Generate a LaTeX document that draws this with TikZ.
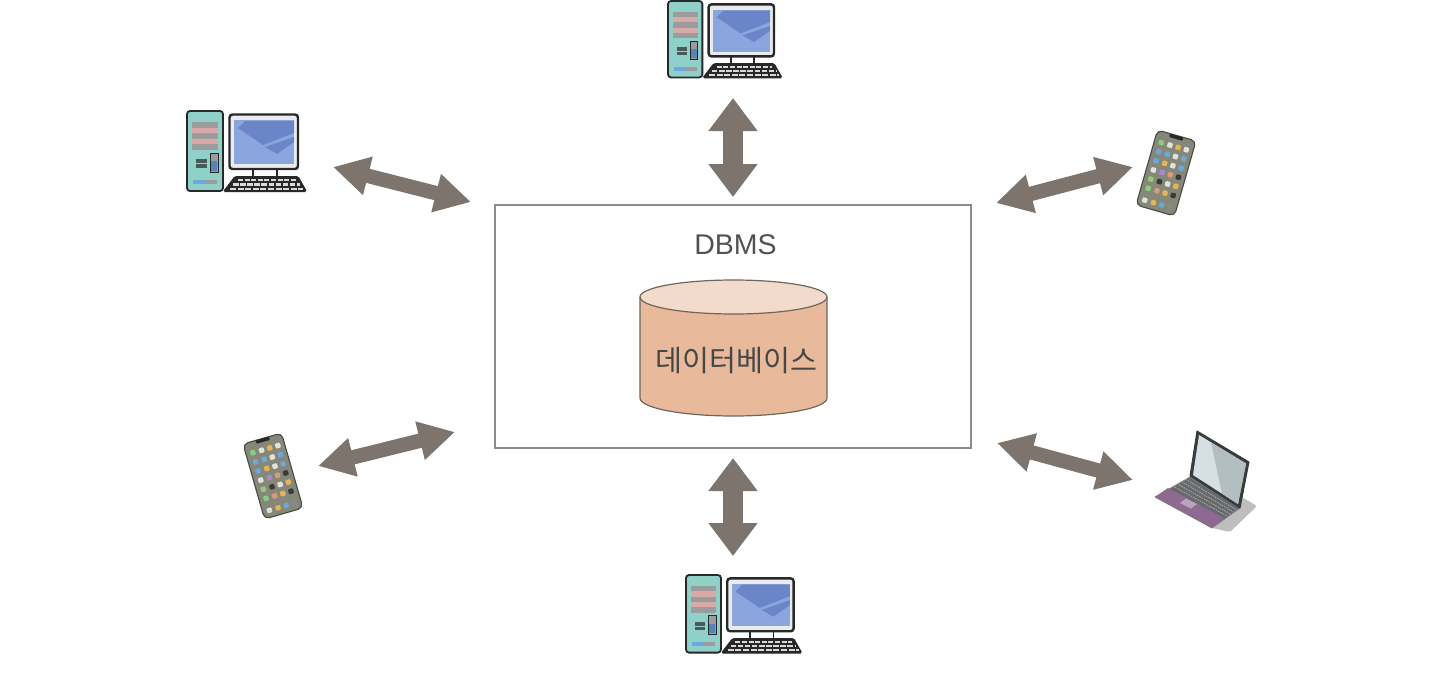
\documentclass[tikz,border=0pt]{standalone}
\usepackage{fontspec}
\setmainfont{Liberation Sans}
\newfontfamily\krfont{Noto Sans CJK KR}
\usetikzlibrary{arrows.meta,calc}
\definecolor{arrowgray}{HTML}{7D746E}
\definecolor{boxline}{HTML}{8C8C8C}
\definecolor{dbside}{HTML}{E8B99B}
\definecolor{dbtop}{HTML}{F3DBCB}
\definecolor{dbline}{HTML}{6E6660}
\definecolor{towerc}{HTML}{8FD0C8}
\definecolor{ink}{HTML}{26282A}
\definecolor{screenc}{HTML}{8BA6DE}
\definecolor{screend}{HTML}{6A86C8}
\definecolor{ventg}{HTML}{9C9C9C}
\definecolor{ventp}{HTML}{D8AAAA}
\definecolor{phonebody}{HTML}{858878}
\definecolor{appg}{HTML}{8CCB7E}
\definecolor{appb}{HTML}{6AA8E0}
\definecolor{appo}{HTML}{E6B455}
\definecolor{appw}{HTML}{E2E2DC}
\definecolor{appk}{HTML}{3A3A3A}
\definecolor{appv}{HTML}{A98AD0}
\definecolor{appr}{HTML}{D99A7E}
\definecolor{lapscr}{HTML}{D6DFE2}
\definecolor{lapscd}{HTML}{B3BEC0}
\definecolor{lapkey}{HTML}{666A6E}
\definecolor{lappur}{HTML}{8F6A90}
\definecolor{lapsh}{HTML}{BEBEBE}
\tikzset{
  slantarrow/.style={draw=arrowgray,line width=14.5pt,
    {Triangle[length=36pt,width=37pt,fill=arrowgray]}-{Triangle[length=36pt,width=37pt,fill=arrowgray]}},
  vertarrow/.style={draw=arrowgray,line width=20pt,
    {Triangle[length=33pt,width=47pt,fill=arrowgray]}-{Triangle[length=33pt,width=47pt,fill=arrowgray]}},
  pcicon/.pic={
    % tower
    \draw[fill=towerc,draw=ink,line width=1.8pt,rounded corners=3pt] (0,0) rectangle (36,80);
    \foreach \yy/\cc in {11/ventg,16.6/ventp,22.2/ventg,27.8/ventp,33.4/ventg}
      \fill[\cc] (5,\yy) rectangle (31,\yy+5.6);
    \fill[ink!70!towerc] (9,48) rectangle (20,57);
    \draw[towerc,line width=.7pt] (9,52.5) -- (20,52.5);
    \draw[fill=ventg,draw=ink,line width=.8pt] (23,42) rectangle (31,61);
    \fill[appb!80!black] (24,50) rectangle (30,60);
    \fill[appb] (6,69) rectangle (19,73);
    \fill[ventg] (19,69) rectangle (30,73);
    % monitor
    \draw[fill=white!92!black,draw=ink,line width=2.4pt,rounded corners=3pt] (42.5,3.5) rectangle (111,58);
    \fill[screenc] (47,9) rectangle (107,53);
    \fill[screend] (58,10) -- (51,17) -- (76,34) -- (107,22) -- (107,10) -- cycle;
    \fill[screend] (78,36) -- (107,26) -- (107,31) -- (90,43) -- cycle;
    % stand
    \draw[ink,line width=1.2pt] (66,58) -- (66,65) (90,58) -- (90,65);
    % keyboard
    \draw[fill=ink,draw=ink,line width=1pt,rounded corners=1.5pt] (48,65.5) -- (111,65.5) -- (119.5,80.5) -- (36.5,80.5) -- cycle;
    \draw[white!85!black,line width=2.4pt,dash pattern=on 5pt off 1.6pt] (51,69) -- (109,69);
    \draw[white!85!black,line width=2.4pt,dash pattern=on 5.5pt off 1.6pt] (46,73.4) -- (113,73.4);
    \draw[white!85!black,line width=2.2pt,dash pattern=on 6pt off 1.6pt] (43,77.6) -- (116,77.6);
  },
  phoneicon/.pic={
    \draw[fill=phonebody,draw=ink!65!phonebody,line width=1.1pt,rounded corners=5pt] (-20,-39) rectangle (20,39);
    \fill[ink,rounded corners=1pt] (-7,-39) rectangle (7,-35.5);
    \foreach \yy/\aa/\bb/\cc/\dd in {
      -28/appg/appw/appo/appw,
      -18.5/appb/appb/appw/appb,
      -9/appb/appo/appw/appb,
      0.5/appw/appv/appr/appk,
      10/appg/appk/appw/appo,
      19.5/appg/appr/appo/appk}{
      \fill[\aa,rounded corners=1pt] (-15.5,\yy-2.5) rectangle ++(5.2,5.2);
      \fill[\bb,rounded corners=1pt] (-6.5,\yy-2.5) rectangle ++(5.2,5.2);
      \fill[\cc,rounded corners=1pt] (2,\yy-2.5) rectangle ++(5.2,5.2);
      \fill[\dd,rounded corners=1pt] (10.5,\yy-2.5) rectangle ++(5.2,5.2);
    }
    \fill[appw,rounded corners=1pt] (-15.5,29.5) rectangle ++(5.2,5);
    \fill[appo,rounded corners=1pt] (-6.5,29.5) rectangle ++(5.2,5);
    \fill[appb,rounded corners=1pt] (2,29.5) rectangle ++(5.2,5);
    \fill[appk!60!white,rounded corners=1pt] (10.5,29.5) rectangle ++(5.2,5);
  },
  laptopicon/.pic={
    \fill[lapsh,rounded corners=2pt] (1240,496) -- (1257,506) -- (1230,532) -- (1212,528) -- cycle;
    \fill[lapkey,draw=phonebody,line width=.8pt,line join=round] (1190,477) -- (1240,508) -- (1212,528) -- (1155,497) -- cycle;
    \fill[lappur] (1155,497) -- (1168,488) -- (1224,518) -- (1212,528) -- cycle;
    \fill[lappur!60!white] (1180,503) -- (1186,498.5) -- (1197,504) -- (1191,508.5) -- cycle;
    \foreach \tt in {.2,.4,.6,.8}{
      \draw[phonebody!70!white,line width=.8pt,dash pattern=on 1.6pt off 1pt]
        ($(1190,477)!\tt!(1168,488)$) -- ($(1240,508)!\tt!(1224,518)$);
    }
    \draw[fill=ink!70!lapkey,draw=ink!70!lapkey,line width=1pt,line join=round] (1197,431) -- (1249,462) -- (1240,508) -- (1190,476) -- cycle;
    \fill[lapscr] (1199,435) -- (1246,463.5) -- (1238,504) -- (1193,475) -- cycle;
    \fill[lapscd] (1211,442.5) -- (1246,463.5) -- (1238,504) -- (1222,493.5) -- cycle;
  }
}
\begin{document}
\begin{tikzpicture}[x=1pt,y=-1pt]
\useasboundingbox (0,0) rectangle (1436,678);
% arrows
\coordinate (a1s) at (333,167); \coordinate (a1e) at (471,202);
\coordinate (a2s) at (1133,167); \coordinate (a2e) at (996,203);
\coordinate (a3s) at (318,466); \coordinate (a3e) at (455,432);
\coordinate (a4s) at (997,443); \coordinate (a4e) at (1133,480);
\coordinate (a5s) at (733,98); \coordinate (a5e) at (733,197);
\coordinate (a6s) at (733,458); \coordinate (a6e) at (733,556);
\draw[slantarrow] (a1s) -- (a1e);
\draw[slantarrow] (a2s) -- (a2e);
\draw[slantarrow] (a3s) -- (a3e);
\draw[slantarrow] (a4s) -- (a4e);
\draw[vertarrow] (a5s) -- (a5e);
\draw[vertarrow] (a6s) -- (a6e);
% DBMS box
\node[draw=boxline,line width=1.5pt,minimum width=476pt,minimum height=243pt,inner sep=0pt] (dbmsbox) at (733,326.5) {};
\node[text=black!68,font=\fontsize{28.5}{30}\selectfont,inner sep=0pt] (dbmslabel) at (735.5,245) {DBMS};
% cylinder
\draw[fill=dbside,draw=dbline,line width=1.2pt] (640,297) -- (640,398) arc[start angle=180,end angle=360,x radius=93.5pt,y radius=18pt] -- (827,297);
\draw[fill=dbtop,draw=dbline,line width=1.2pt] (733.5,297) ellipse[x radius=93.5pt,y radius=17pt];
\node[text=black!72,font=\krfont\fontsize{29.3}{32}\selectfont,inner sep=0pt] (dblabel) at (736.5,361) {데이터베이스};
% devices
\pic (pcleft) at (187,111) {pcicon};
\pic[scale=.955] (pctop) at (668,1) {pcicon};
\pic[scale=.97] (pcbottom) at (686,575) {pcicon};
\pic[rotate=-16] (phoneright) at (1166,173) {phoneicon};
\pic[rotate=16] (phoneleft) at (273,476) {phoneicon};
\pic (laptop) at (0,0) {laptopicon};
\end{tikzpicture}
\end{document}
